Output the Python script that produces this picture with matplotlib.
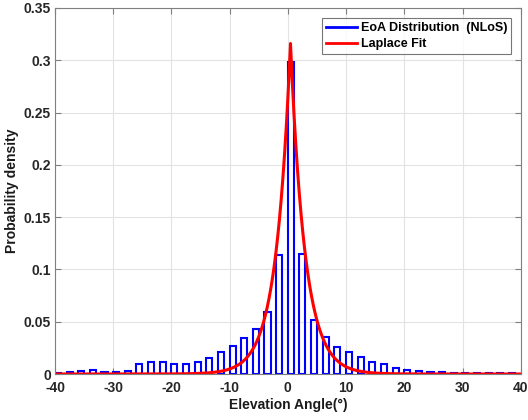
import numpy as np
import matplotlib
matplotlib.use("Agg")
import matplotlib.pyplot as plt
from matplotlib.lines import Line2D

plt.rcParams['font.family'] = ['Liberation Sans', 'DejaVu Sans']
plt.rcParams['font.weight'] = 'bold'
plt.rcParams['axes.unicode_minus'] = False

# histogram of elevation angle (bin width 2 deg)
bin_centers = np.arange(-39.5, 40, 2)
density = [0.0005, 0.0016, 0.003, 0.0038, 0.002, 0.002, 0.003, 0.0093, 0.0118, 0.0118,
           0.0096, 0.0096, 0.0118, 0.015, 0.0207, 0.027, 0.034, 0.043, 0.0596, 0.114,
           0.298, 0.115, 0.052, 0.035, 0.026, 0.0207, 0.016, 0.0118, 0.0096, 0.006,
           0.004, 0.003, 0.002, 0.0015, 0.0012, 0.001, 0.001, 0.001, 0.001, 0.001]

# Laplace fit parameters
lap_amp = 0.316
lap_mu = 0.45
lap_b = 2.5

xfit = np.linspace(-40, 40, 1601)
yfit = lap_amp * np.exp(-np.abs(xfit - lap_mu) / lap_b)

fig = plt.figure(figsize=(5.28, 4.2), dpi=100)
ax = fig.add_axes([0.1042, 0.1095, 0.882, 0.8715])

ax.bar(bin_centers, density, width=1.05, fill=False, edgecolor='blue', linewidth=1.5)
ax.plot(xfit, yfit, color='red', linewidth=2.2)

ax.set_xlim(-40, 40)
ax.set_ylim(0, 0.35)
ax.set_xticks(np.arange(-40, 41, 10))
ax.set_yticks(np.arange(0, 0.351, 0.05))
ax.set_yticklabels(['0', '0.05', '0.1', '0.15', '0.2', '0.25', '0.3', '0.35'])
ax.grid(True, color='#e3e3e3', linewidth=0.8)
ax.set_axisbelow(True)
ax.tick_params(direction='in', top=True, right=True, length=4, width=0.8,
               color='#808080', labelsize=10, labelcolor='#262626', pad=3)
ax.tick_params(axis='x', pad=5)
for sp in ax.spines.values():
    sp.set_color('#808080')
    sp.set_linewidth(0.8)

ax.set_xlabel('Elevation Angle(°)', fontsize=10, fontweight='bold', color='#1a1a1a', labelpad=2)
ax.set_ylabel('Probability density', fontsize=10, fontweight='bold', color='#1a1a1a')
ax.yaxis.set_label_coords(-0.078, 0.5)

handles = [Line2D([], [], color='blue', lw=2), Line2D([], [], color='red', lw=2)]
leg = ax.legend(handles, ['EoA Distribution  (NLoS)', 'Laplace Fit'], loc='upper right',
                bbox_to_anchor=(0.98, 0.972), fontsize=9, frameon=True, fancybox=False,
                edgecolor='#555555', handlelength=2.5, borderpad=0.3, labelspacing=0.35,
                handletextpad=0.3, borderaxespad=0)
leg.get_frame().set_linewidth(0.8)

fig.savefig('out.png', dpi=100)
